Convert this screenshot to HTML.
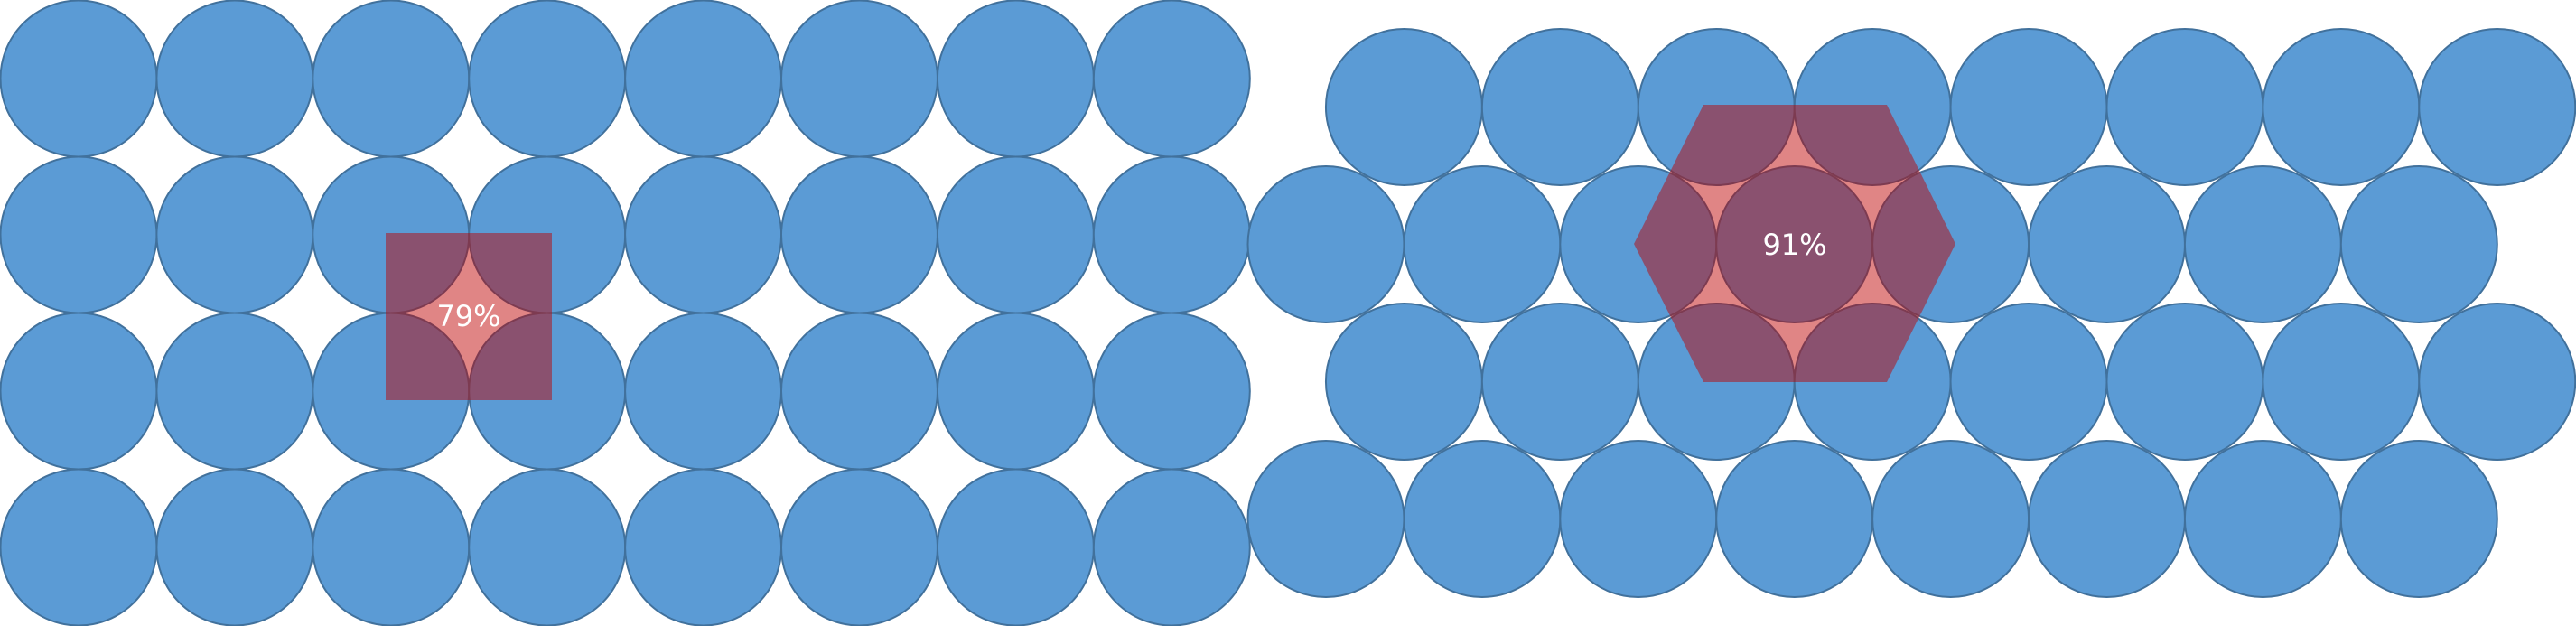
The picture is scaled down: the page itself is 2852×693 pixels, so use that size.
<!DOCTYPE html>
<html><head><meta charset="utf-8"><style>
html,body{margin:0;padding:0;background:#fff;width:2852px;height:693px;overflow:hidden}
svg{display:block}
text{font-family:"DejaVu Sans","Liberation Sans",sans-serif}
</style></head><body>
<svg id="c" width="2852" height="693" viewBox="0 0 2852 693"></svg>
<script>
// Square packing: grid layout
const squareCols = 8;
const squareRows = 4;
// Hexagonal packing: row counts and row offsets (1 = shifted right, 0 = flush left)
const hexRowCounts = [8, 8, 8, 8];
const hexRowShift = [1, 0, 1, 0];
// Density labels
const densityLabels = ["79%", "91%"];

const NS = "http://www.w3.org/2000/svg";
const svg = document.getElementById('c');
const R = 86.5, DX = 172.9;
function mk(tag, attrs){const e=document.createElementNS(NS,tag);for(const k in attrs)e.setAttribute(k,attrs[k]);svg.appendChild(e);return e;}
function circle(cx,cy,name){
  const e=mk('circle',{cx:cx,cy:cy,r:R,fill:'#5B9BD5',stroke:'#41719C','stroke-width':2});
  
  
}
// square grid
const sqX = c => 87 + c*DX;
const sqY = r => 87 + r*173;
for(let r=0;r<squareRows;r++)for(let c=0;c<squareCols;c++)circle(sqX(c),sqY(r),'square-grid-circle');
// hex grid
const hxX = (r,c) => 1468 + hexRowShift[r]*DX/2 + c*DX;
const hxY = r => 118.5 + r*152;
hexRowCounts.forEach((n,r)=>{for(let c=0;c<n;c++)circle(hxX(r,c),hxY(r),'hex-grid-circle');});
// square overlay
const sq = mk('rect',{x:427,y:258,width:184,height:185,fill:'rgb(191,0,0)','fill-opacity':0.48});


// hex overlay
const hx = mk('polygon',{points:'1886,116 2089,116 2165,270 2089,423 1886,423 1809,270',fill:'rgb(191,0,0)','fill-opacity':0.48});


// labels
const t1 = mk('text',{x:519,y:361,'font-size':32,fill:'#fff','text-anchor':'middle'});
t1.textContent = densityLabels[0];


const t2 = mk('text',{x:1987,y:282,'font-size':32,fill:'#fff','text-anchor':'middle'});
t2.textContent = densityLabels[1];


</script>
</body></html>
